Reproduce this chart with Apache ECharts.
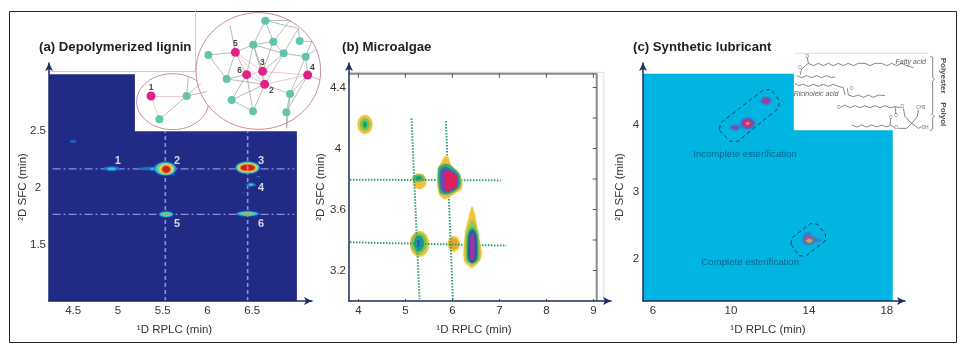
<!DOCTYPE html>
<html>
<head>
<meta charset="utf-8">
<title>2D RPLC-SFC</title>
<style>
  html, body { margin: 0; padding: 0; background: #fff; }
  #chart { width: 970px; height: 352px; }
</style>
<script src="https://cdn.jsdelivr.net/npm/echarts@6/dist/echarts.min.js"></script>
</head>
<body>
<div id="chart"></div>
<script>
// tick labels
var aTicksX = [4.5, 5, 5.5, 6, 6.5];
var aTicksY = [1.5, 2, 2.5];
var bTicksX = [4, 5, 6, 7, 8, 9];
var bTicksY = [3.2, 3.6, 4, 4.4];
var bMinorY = [3.2, 3.4, 3.6, 3.8, 4, 4.2, 4.4];
var cTicksX = [6, 10, 14, 18];
var cTicksY = [2, 3, 4];

// (a) spots: x, y, half width, half height (all in minutes), contour level
var aSpots = [
  [4.50, 2.41, 0.035, 0.008, 0], [5.62, 2.12, 0.02, 0.004, 0], [6.57, 2.10, 0.02, 0.004, 0], [6.40, 1.96, 0.012, 0.004, 0],
  [5.39, 2.17, 0.168, 0.013, 0], [5.45, 2.17, 0.09, 0.01, 1],
  [4.93, 2.17, 0.09, 0.017, 0], [4.93, 2.17, 0.05, 0.01, 1],
  [5.53, 2.17, 0.125, 0.057, 0], [5.53, 2.17, 0.11, 0.053, 1], [5.535, 2.17, 0.09, 0.05, 2], [5.54, 2.167, 0.075, 0.043, 3], [5.54, 2.165, 0.055, 0.036, 4], [5.54, 2.165, 0.04, 0.028, 5],
  [6.45, 2.18, 0.135, 0.052, 0], [6.45, 2.18, 0.125, 0.047, 1], [6.45, 2.18, 0.115, 0.042, 2], [6.45, 2.18, 0.105, 0.037, 3], [6.45, 2.18, 0.09, 0.03, 4], [6.45, 2.18, 0.075, 0.024, 5], [6.45, 2.18, 0.008, 0.022, 4],
  [6.487, 2.03, 0.055, 0.013, 0], [6.487, 2.03, 0.025, 0.008, 1],
  [5.54, 1.77, 0.08, 0.025, 0], [5.54, 1.77, 0.07, 0.02, 1], [5.54, 1.77, 0.05, 0.015, 2], [5.54, 1.77, 0.025, 0.008, 6],
  [6.45, 1.775, 0.13, 0.02, 0], [6.45, 1.775, 0.105, 0.017, 1], [6.45, 1.775, 0.07, 0.013, 2], [6.45, 1.775, 0.035, 0.008, 6]
];
var aLines = [
  [[4.27, 2.17], [6.97, 2.17]],
  [[4.27, 1.77], [6.97, 1.77]],
  [[5.53, 1.01], [5.53, 2.5]],
  [[6.45, 1.01], [6.45, 2.5]]
];
var aNames = [
  { name: "1", value: [5.0, 2.24] }, { name: "2", value: [5.66, 2.24] }, { name: "3", value: [6.6, 2.24] },
  { name: "4", value: [6.6, 2.0] }, { name: "5", value: [5.66, 1.69] }, { name: "6", value: [6.6, 1.69] }
];
var aRegions = [[4.23, 1.01, 7.0, 2.5], [4.23, 2.4, 5.19, 3.0]];

// (b) spots and outlined contours
var bSpots = [
  [4.14, 4.158, 0.156, 0.061, 0], [4.14, 4.158, 0.10, 0.04, 2], [4.14, 4.158, 0.04, 0.02, 3],
  [5.30, 3.785, 0.14, 0.05, 0], [5.28, 3.805, 0.13, 0.024, 2], [5.28, 3.807, 0.07, 0.012, 3],
  [5.30, 3.375, 0.20, 0.083, 0], [5.29, 3.378, 0.16, 0.068, 2], [5.29, 3.378, 0.10, 0.05, 3], [5.28, 3.378, 0.07, 0.036, 4], [5.27, 3.378, 0.035, 0.02, 5],
  [6.03, 3.375, 0.125, 0.05, 0], [6.03, 3.375, 0.09, 0.035, 1]
];
var bPeakC0 = [[5.84, 3.95], [5.91, 3.94], [5.98, 3.88], [6.16, 3.83], [6.20, 3.74], [6.02, 3.70], [5.84, 3.67], [5.72, 3.70], [5.68, 3.79], [5.70, 3.87], [5.77, 3.91]];
var bPeakC1 = [[5.84, 3.90], [5.95, 3.89], [6.15, 3.83], [6.16, 3.75], [5.91, 3.70], [5.74, 3.71], [5.70, 3.87]];
var bPeakC2 = [[5.84, 3.88], [6.10, 3.83], [6.11, 3.75], [5.88, 3.71], [5.76, 3.73], [5.74, 3.85]];
var bPeakC3 = [[5.84, 3.865], [6.08, 3.825], [6.09, 3.75], [5.88, 3.72], [5.78, 3.74], [5.78, 3.85]];
var bPeakC4 = [[5.88, 3.85], [6.07, 3.825], [6.07, 3.75], [5.89, 3.725], [5.85, 3.74]];
var bPeakF0 = [[6.42, 3.62], [6.48, 3.56], [6.55, 3.44], [6.62, 3.32], [6.59, 3.27], [6.41, 3.22], [6.25, 3.27], [6.27, 3.44], [6.36, 3.56]];
var bPeakF1 = [[6.42, 3.53], [6.55, 3.44], [6.57, 3.27], [6.41, 3.24], [6.29, 3.27], [6.30, 3.44]];
var bPeakF2 = [[6.42, 3.48], [6.52, 3.44], [6.53, 3.27], [6.42, 3.25], [6.32, 3.27], [6.33, 3.44]];
var bPeakF3 = [[6.42, 3.46], [6.50, 3.43], [6.50, 3.28], [6.42, 3.25], [6.35, 3.28], [6.36, 3.43]];
var bPeakF4 = [[6.42, 3.45], [6.47, 3.42], [6.47, 3.28], [6.42, 3.26], [6.38, 3.28], [6.38, 3.42]];
var bLines = [
  [[3.82, 3.796], [7.03, 3.791]],
  [[3.82, 3.385], [7.15, 3.363]],
  [[5.13, 4.198], [5.30, 3.011]],
  [[5.86, 4.18], [6.01, 3.011]]
];

// (c) spots and regions
var cSpots = [
  [11.80, 4.36, 0.27, 0.06, 0], [11.80, 4.36, 0.19, 0.04, 1], [11.80, 4.36, 0.12, 0.02, 2],
  [10.86, 4.02, 0.38, 0.085, 0], [10.86, 4.02, 0.29, 0.07, 1], [10.86, 4.02, 0.2, 0.05, 2], [10.86, 4.02, 0.1, 0.025, 3], [10.86, 4.02, 0.035, 0.01, 4],
  [10.22, 3.96, 0.26, 0.04, 0], [10.22, 3.96, 0.17, 0.025, 1]
];
var cTear = [[13.97, 2.405], [14.22, 2.33], [14.65, 2.28], [14.31, 2.24], [13.97, 2.21], [13.71, 2.24], [13.71, 2.33]];
var cTearInner = [[14.0, 2.335], [14.27, 2.28], [14.0, 2.215], [13.72, 2.28]];
var cTearCore = [[14.02, 2.30], [14.17, 2.27], [14.02, 2.24], [13.87, 2.27]];
var cBox1 = [[9.41, 3.917], [9.94, 3.754], [10.35, 3.753], [12.42, 4.242], [12.50, 4.353], [12.07, 4.522], [11.68, 4.524], [9.47, 4.027]];
var cBox2 = [[13.08, 2.215], [13.49, 2.048], [13.82, 2.036], [14.82, 2.262], [14.86, 2.359], [14.43, 2.516], [14.09, 2.527], [13.13, 2.313]];
var cRegions = [[5.49, 1.37, 18.3, 3.92], [5.49, 3.8, 13.23, 4.76]];
var cNames = [
  { name: "Incomplete esterification", value: [10.72, 3.56] },
  { name: "Complete esterification", value: [10.99, 1.95] }
];

// network inset, in its own 600 x 405 scale
var netSmallNodes = [[63, 288], [170, 288], [88, 358], [175, 230], [212, 250], [232, 275]];
var netSmallLinks = [[0, 1, 1], [0, 2, 1], [1, 2, 0], [1, 3, 0], [1, 4, 0], [1, 5, 0]];
var netPink = [[316, 157], [350, 224], [398, 214], [404, 253], [533, 225]];
var netTeal = [[406, 62], [370, 134], [430, 125], [461, 160], [509, 123], [527, 170], [235, 165], [290, 237], [305, 300], [369, 334], [480, 282], [469, 337]];
var netEnds = [[480, 62], [505, 85], [545, 125], [570, 240], [470, 385], [300, 75], [555, 150]];
var netLinks = [
  [11, 0, 0], [11, 12, 0], [0, 6, 0], [0, 1, 0], [0, 12, 0], [0, 2, 1], [6, 5, 0], [6, 7, 0], [6, 8, 0], [6, 1, 0], [6, 3, 0], [6, 2, 0],
  [7, 8, 0], [7, 5, 0], [7, 2, 0], [7, 17, 0], [8, 3, 0], [8, 10, 0], [8, 2, 0], [5, 17, 0], [5, 18, 0], [8, 18, 0], [9, 19, 0], [10, 4, 0],
  [10, 19, 0], [9, 18, 0], [4, 15, 0], [4, 16, 0], [15, 3, 0], [15, 10, 0], [15, 21, 0], [4, 20, 0], [12, 1, 0], [12, 3, 0], [13, 1, 0], [13, 3, 0],
  [13, 14, 0], [14, 3, 0], [14, 1, 0], [16, 21, 0], [3, 4, 1], [1, 2, 1], [1, 3, 1], [2, 3, 1], [2, 4, 1], [0, 3, 1], [0, 22, 0], [10, 23, 0], [15, 16, 0]
];
var netRings = [[128, 305, 108, 84], [385, 213, 187, 175]];
var netNames = [
  { name: "1", value: [63, 263] }, { name: "2", value: [424, 272] }, { name: "3", value: [397, 188] },
  { name: "4", value: [547, 203] }, { name: "5", value: [316, 132] }, { name: "6", value: [329, 212] }
];

// structure inset, in its own 510 x 270 scale
var chemBonds = [
  [[30, 90], [35, 72], [55, 55], [52, 38]],
  [[55, 55], [70, 62], [85, 55], [100, 62], [115, 55], [130, 62], [145, 55], [160, 62], [175, 55], [190, 62], [205, 55], [225, 55], [240, 62], [255, 55], [275, 55], [290, 62], [305, 55], [320, 62], [335, 55], [350, 62], [370, 68]],
  [[20, 92], [35, 98], [50, 92], [65, 98], [80, 92], [95, 98], [110, 92], [125, 98], [135, 95]],
  [[15, 115], [25, 122], [40, 118], [55, 124], [70, 118], [85, 124], [100, 118], [115, 124], [130, 118], [145, 124], [160, 128], [165, 150]],
  [[172, 130], [175, 150], [190, 155], [205, 150], [220, 157], [235, 150], [250, 157], [265, 150], [285, 152]],
  [[152, 187], [165, 180], [180, 188], [195, 182], [210, 188], [225, 182], [240, 188], [255, 182], [270, 188], [285, 182], [300, 188], [315, 185], [318, 208]],
  [[315, 185], [332, 188]],
  [[340, 190], [345, 215], [365, 235], [382, 215], [385, 195]],
  [[365, 235], [350, 250], [325, 250]],
  [[365, 235], [385, 250], [395, 245]],
  [[185, 240], [200, 246], [215, 240], [230, 246], [245, 240], [260, 246], [275, 240], [290, 246], [300, 240], [302, 222]],
  [[300, 240], [315, 248]],
  [[420, 33], [428, 38], [428, 98], [434, 103], [428, 108], [428, 205], [422, 210]],
  [[428, 210], [434, 214], [428, 218], [428, 252], [420, 258]]
];
var chemItalic = [{ name: "Fatty acid", value: [362, 50] }, { name: "Ricinoleic acid", value: [78, 147] }];
var chemAtoms = [
  { name: "O", value: [52, 34] }, { name: "O", value: [30, 68] }, { name: "O", value: [185, 130] }, { name: "O", value: [146, 188] },
  { name: "O", value: [318, 212] }, { name: "O", value: [337, 184] }, { name: "O", value: [302, 217] }, { name: "O", value: [319, 248] },
  { name: "CH3", value: [392, 188] }, { name: "OH", value: [405, 247] }
];
var chemGroups = [{ name: "Polyester", value: [460, 92] }, { name: "Polyol", value: [460, 208] }];
var chemTopRule = [[15, 25], [415, 25]];

var FONT = "Liberation Sans";
var AXIS_COLOR = "#1e2b63";
var LABEL_COLOR = "#333";
var aColors = ["#1f6fd2", "#37c0dc", "#70d08c", "#e6e05c", "#e88a2c", "#cf1f1f", "#a8a860"];
var bSpotColors = ["#f3c23a", "#e8a82a", "#7cc35a", "#14a270", "#1a8fb8", "#1c52a8"];
var cColors = ["#3f7cc8", "#7a4fa8", "#b03a8a", "#e2506a", "#f0d0c8"];

function ellipseSeries(i, spots, colors, z) {
  return {
    type: "custom", xAxisIndex: i, yAxisIndex: i, z: z, silent: true, clip: false,
    data: spots,
    renderItem: function (params, api) {
      var c = api.coord([api.value(0), api.value(1)]);
      var s = api.size([api.value(2), api.value(3)]);
      var color = colors[api.value(4)];
      return {
        type: "ellipse",
        shape: { cx: c[0], cy: c[1], rx: s[0], ry: s[1] },
        style: { fill: color, shadowBlur: 1.5, shadowColor: color }
      };
    }
  };
}

function polySeries(i, outlines, z, smooth) {
  return {
    type: "custom", xAxisIndex: i, yAxisIndex: i, z: z, silent: true, clip: false,
    data: outlines.map(function (o, k) { return [o.pts[0][0], o.pts[0][1], k]; }),
    renderItem: function (params, api) {
      var o = outlines[api.value(2)];
      return {
        type: "polygon",
        shape: { points: o.pts.map(function (p) { return api.coord(p); }), smooth: smooth },
        style: o.stroke ? { fill: "none", stroke: o.stroke, lineWidth: 1, lineDash: [4, 3] } : { fill: o.fill, shadowBlur: 1.5, shadowColor: o.fill }
      };
    }
  };
}

function rectSeries(i, rects, fill, z) {
  return {
    type: "custom", xAxisIndex: i, yAxisIndex: i, z: z, silent: true, clip: false,
    data: rects,
    renderItem: function (params, api) {
      var a = api.coord([api.value(0), api.value(3)]);
      var b = api.coord([api.value(2), api.value(1)]);
      return { type: "rect", shape: { x: a[0], y: a[1], width: b[0] - a[0], height: b[1] - a[1] }, style: { fill: fill } };
    }
  };
}

function lineSeries(i, points, style, z) {
  return {
    type: "line", xAxisIndex: i, yAxisIndex: i, z: z, silent: true, data: points,
    showSymbol: false, symbol: "none", animation: false, lineStyle: style
  };
}

function textSeries(i, items, label, z) {
  return {
    type: "scatter", xAxisIndex: i, yAxisIndex: i, z: z, silent: true, data: items, symbolSize: 1,
    itemStyle: { color: "rgba(0,0,0,0)" },
    label: Object.assign({ show: true, position: "inside", formatter: "{b}", fontFamily: FONT }, label)
  };
}

function plotXAxis(grid, min, max, ticks) {
  return {
    type: "value", gridIndex: grid, min: min, max: max, z: 5,
    name: "¹D RPLC (min)", nameLocation: "middle", nameGap: 23,
    nameTextStyle: { fontFamily: FONT, fontSize: 11.5, color: LABEL_COLOR, padding: [0, 12, 0, 0] },
    splitLine: { show: false },
    axisLine: { onZero: false, symbol: ["none", "arrow"], symbolSize: [6, 8], lineStyle: { color: AXIS_COLOR, width: 1.5 } },
    axisTick: { show: grid === 1, inside: true, length: 2, customValues: ticks, lineStyle: { color: "#444" } },
    axisLabel: { customValues: ticks, margin: 4, fontFamily: FONT, fontSize: 11.5, color: LABEL_COLOR }
  };
}

function plotYAxis(grid, min, max, ticks, gap, margin) {
  return {
    type: "value", gridIndex: grid, min: min, max: max, z: 5,
    name: "²D SFC (min)", nameLocation: "middle", nameGap: gap, nameMoveOverlap: false,
    nameTextStyle: { fontFamily: FONT, fontSize: 11.5, color: LABEL_COLOR, padding: [0, 10, 0, 0] },
    splitLine: { show: false },
    axisLine: { onZero: false, symbol: ["none", "arrow"], symbolSize: [6, 8], lineStyle: { color: AXIS_COLOR, width: 1.5 } },
    axisTick: { show: false, customValues: ticks },
    axisLabel: { customValues: ticks, margin: margin, align: "center", fontFamily: FONT, fontSize: 11.5, color: LABEL_COLOR }
  };
}

function hiddenAxis(grid, max, inverse) {
  return { type: "value", gridIndex: grid, min: 0, max: max, show: false, inverse: inverse, splitLine: { show: false } };
}

function title(text, left) {
  return { text: text, left: left, top: 41, padding: 0, textStyle: { fontFamily: FONT, fontSize: 13.2, fontWeight: "bold", color: "#222" } };
}

var grayLink = { color: "#9aa09b", width: 0.7, opacity: 1 };
var pinkLink = { color: "#e2b2c6", width: 0.7, opacity: 1 };

function netNode(p, color, size) {
  return { value: p, symbolSize: size, itemStyle: { color: color } };
}

var netBigData = netPink.map(function (p) { return netNode(p, "#e0218a", 9); })
  .concat(netTeal.map(function (p) { return netNode(p, "#62c4ae", 8); }))
  .concat(netEnds.map(function (p) { return netNode(p, "rgba(0,0,0,0)", 0); }));
var netSmallData = netSmallNodes.map(function (p, k) {
  return k === 0 ? netNode(p, "#e0218a", 9) : (k < 3 ? netNode(p, "#62c4ae", 8) : netNode(p, "rgba(0,0,0,0)", 0));
});

function graphSeries(nodes, links, z) {
  return {
    type: "graph", coordinateSystem: "cartesian2d", xAxisIndex: 3, yAxisIndex: 3, z: z, silent: true,
    symbol: "circle", animation: false, data: nodes,
    links: links.map(function (l) { return { source: l[0], target: l[1], lineStyle: l[2] ? pinkLink : grayLink }; })
  };
}

var bMainOutlines = [
  { pts: bPeakC0, fill: "#f3c23a" }, { pts: bPeakC1, fill: "#3fae6a" }, { pts: bPeakC2, fill: "#1c7fb0" }, { pts: bPeakC3, fill: "#8e3aa8" }, { pts: bPeakC4, fill: "#e0205c" },
  { pts: bPeakF0, fill: "#f3c23a" }, { pts: bPeakF1, fill: "#8fc950" }, { pts: bPeakF2, fill: "#17a67a" }, { pts: bPeakF3, fill: "#1c52a8" }, { pts: bPeakF4, fill: "#8e3aa8" }
];
var cTearOutlines = [{ pts: cTear, fill: cColors[0] }, { pts: cTearInner, fill: "#9a5a88" }, { pts: cTearCore, fill: "#7fc46a" }];
var cBoxOutlines = [{ pts: cBox1, stroke: "#1c3b5c" }, { pts: cBox2, stroke: "#1c3b5c" }];

var aDash = { color: "#8d90e4", width: 1.2, type: [8, 3, 2, 3] };
var aDashV = { color: "#8d90e4", width: 1.6, type: [4, 3] };
var bDot = { color: "#2d9a74", width: 2, type: [1.5, 1.5] };

var myChart = echarts.init(document.getElementById("chart"));
myChart.setOption({
  animation: false,
  backgroundColor: "#fff",
  title: [title("(a) Depolymerized lignin", 39), title("(b) Microalgae", 342), title("(c) Synthetic lubricant", 633)],
  grid: [
    { left: 49, top: 63, width: 263, height: 238 },
    { left: 349, top: 63, width: 262, height: 238 },
    { left: 643, top: 63, width: 262, height: 238 },
    { left: 130, top: 0, width: 200, height: 135 },
    { left: 790, top: 45, width: 170, height: 90 }
  ],
  xAxis: [
    plotXAxis(0, 4.23, 7.169, aTicksX),
    plotXAxis(1, 3.8, 9.374, bTicksX),
    plotXAxis(2, 5.49, 18.93, cTicksX),
    hiddenAxis(3, 600, false),
    hiddenAxis(4, 510, false)
  ],
  yAxis: [
    plotYAxis(0, 1.01, 3.098, aTicksY, 20, 11),
    plotYAxis(1, 3.0, 4.561, bTicksY, 22, 11),
    plotYAxis(2, 1.37, 4.922, cTicksY, 17, 7),
    hiddenAxis(3, 405, true),
    hiddenAxis(4, 270, true)
  ],
  graphic: [
    { type: "rect", z: -1, shape: { x: 9.5, y: 11.5, width: 947, height: 331 }, style: { fill: "none", stroke: "#2a2028", lineWidth: 1 } },
    { type: "polyline", z: -1, shape: { points: [[195.5, 11], [195.5, 71.5], [49, 71.5]] }, style: { fill: "none", stroke: "#cfcfcf", lineWidth: 1 } }
  ],
  series: [
    // (a)
    rectSeries(0, aRegions, "#212b86", 1),
    lineSeries(0, aLines[0], aDash, 2), lineSeries(0, aLines[1], aDash, 2), lineSeries(0, aLines[2], aDashV, 2), lineSeries(0, aLines[3], aDashV, 2),
    ellipseSeries(0, aSpots, aColors, 3),
    textSeries(0, aNames, { color: "#fff", fontSize: 11, fontWeight: "bold" }, 4),
    // (b)
    {
      type: "custom", xAxisIndex: 1, yAxisIndex: 1, z: 1, silent: true, clip: false,
      data: bMinorY.map(function (v) { return [9.07, v]; }).concat(bTicksX.map(function (v) { return [v, 4.49]; })),
      renderItem: function (params, api) {
        var c = api.coord([api.value(0), api.value(1)]);
        var right = params.dataIndex < bMinorY.length;
        return { type: "line", shape: { x1: c[0], y1: c[1], x2: right ? c[0] - 4 : c[0], y2: right ? c[1] : c[1] + 4 }, style: { stroke: "#555", lineWidth: 1 } };
      }
    },
    lineSeries(1, [[3.8, 4.5], [9.22, 4.5], [9.22, 3.0]], { color: "#dcdcdc", width: 1 }, 0),
    lineSeries(1, [[3.8, 4.49], [9.07, 4.49], [9.07, 3.0]], { color: "#8a8a8a", width: 2 }, 0),
    ellipseSeries(1, bSpots, bSpotColors, 2),
    lineSeries(1, bLines[0], bDot, 3), lineSeries(1, bLines[1], bDot, 3), lineSeries(1, bLines[2], bDot, 3), lineSeries(1, bLines[3], bDot, 3),
    polySeries(1, bMainOutlines, 4, 0.25),
    // (c)
    rectSeries(2, cRegions, "#00b5e2", 1),
    ellipseSeries(2, cSpots, cColors, 2),
    polySeries(2, cTearOutlines, 2, 0.4),
    polySeries(2, cBoxOutlines, 3, 0),
    textSeries(2, cNames, { color: "#12506e", fontSize: 9.6 }, 4),
    // network inset
    {
      type: "custom", xAxisIndex: 3, yAxisIndex: 3, z: 5, silent: true, clip: false,
      data: netRings,
      renderItem: function (params, api) {
        var c = api.coord([api.value(0), api.value(1)]);
        var s = api.size([api.value(2), api.value(3)]);
        return { type: "ellipse", shape: { cx: c[0], cy: c[1], rx: s[0], ry: s[1] }, style: { fill: "#fff", stroke: "#c98aa8", lineWidth: 1 } };
      }
    },
    graphSeries(netSmallData, netSmallLinks, 6),
    graphSeries(netBigData, netLinks, 6),
    textSeries(3, netNames, { color: "#111", fontSize: 8.5, fontWeight: "bold" }, 7),
    // structure inset
    {
      type: "custom", xAxisIndex: 4, yAxisIndex: 4, z: 6, silent: true, clip: false,
      data: chemBonds.map(function (b, k) { return [b[0][0], b[0][1], k]; }),
      renderItem: function (params, api) {
        var pts = chemBonds[api.value(2)].map(function (p) { return api.coord(p); });
        return { type: "polyline", shape: { points: pts }, style: { fill: "none", stroke: "#555", lineWidth: 0.7 } };
      }
    },
    lineSeries(4, chemTopRule, { color: "#dedede", width: 1 }, 6),
    textSeries(4, chemItalic, { color: "#333", fontSize: 7, fontStyle: "italic" }, 7),
    textSeries(4, chemAtoms, { color: "#444", fontSize: 4.5 }, 7),
    textSeries(4, chemGroups, { color: "#222", fontSize: 8, fontWeight: "bold", rotate: -90 }, 7)
  ]
});
window.addEventListener("resize", function () { myChart.resize(); });
</script>
</body>
</html>
